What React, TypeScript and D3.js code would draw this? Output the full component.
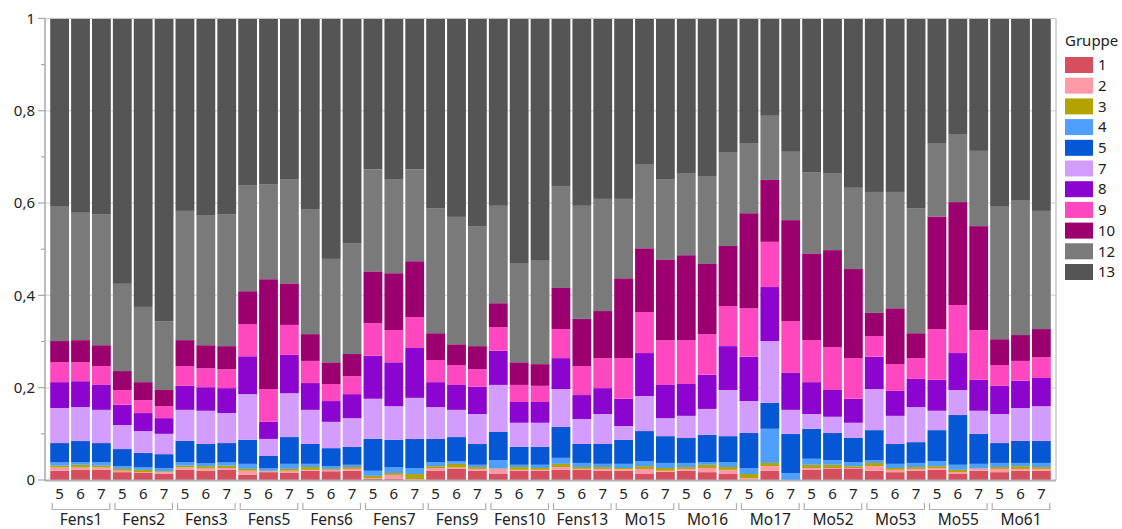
import React from "react";
import * as d3 from "d3";

const groups = ["Fens1","Fens2","Fens3","Fens5","Fens6","Fens7","Fens9","Fens10","Fens13","Mo15","Mo16","Mo17","Mo52","Mo53","Mo55","Mo61"];
const weeks = ["5","6","7"];
const seriesKeys = ["1","2","3","4","5","7","8","9","10","12","13"];
const seriesColors = ["#d64f5e","#ff9aa6","#b3a300","#4f9fff","#0557d6","#d39dff","#8b04d0","#ff48bf","#9c006e","#7a7a7a","#555555"];
const yTicks = [0,0.2,0.4,0.6,0.8,1];
const yTickLabels = ["0","0,2","0,4","0,6","0,8","1"];

const g1 = [.020,.022,.022,.017,.016,.014,.022,.020,.022,.011,.017,.016,.020,.019,.020,.003,.002,.001,.020,.025,.020,.013,.020,.020,.022,.022,.020,.020,.013,.018,.020,.017,.013,.001,.020,0,.022,.025,.025,.020,.017,.020,.022,.013,.020,.017,.020,.020];
const g2 = [.007,.005,.005,.003,.001,.003,.005,.005,.004,.009,.002,.004,.002,.003,.004,.001,.009,.001,.006,.002,.004,.011,.002,.002,.006,.002,.004,.003,.011,.002,.004,.009,.009,.003,.010,0,.004,.001,.001,.010,.005,.004,.004,.004,.004,.007,.004,.004];
const g3 = [.004,.006,.004,.004,.005,.002,.004,.005,.005,.004,.001,.004,.006,.002,.004,.005,.004,.011,.004,.008,.004,.001,.006,.004,.007,.004,.004,.003,.006,.006,.004,.007,.006,.009,.007,0,.007,.007,.004,.007,.004,.004,.004,.005,.001,.004,.006,.004];
const g4 = [.007,.006,.008,.006,.006,.007,.008,.006,.007,.011,.006,.011,.007,.006,.005,.011,.013,.013,.009,.006,.005,.018,.005,.007,.013,.009,.007,.009,.011,.011,.009,.006,.011,.013,.074,.015,.013,.010,.009,.006,.009,.009,.011,.011,.010,.009,.007,.009];
const g5 = [.042,.046,.041,.037,.031,.030,.046,.042,.042,.052,.026,.058,.043,.039,.039,.069,.059,.063,.050,.052,.045,.061,.039,.039,.067,.041,.043,.052,.065,.058,.054,.059,.056,.076,.056,.085,.065,.059,.052,.065,.043,.045,.067,.108,.065,.043,.048,.048];
const g7 = [.076,.073,.072,.052,.047,.044,.067,.072,.065,.099,.037,.095,.074,.057,.062,.087,.073,.089,.069,.059,.065,.102,.052,.052,.082,.054,.065,.030,.076,.039,.048,.056,.100,.069,.134,.052,.032,.035,.033,.089,.061,.076,.042,.054,.050,.063,.071,.075];
const g8 = [.056,.056,.054,.044,.039,.034,.052,.051,.054,.082,.037,.083,.058,.045,.052,.093,.095,.108,.054,.054,.059,.074,.045,.045,.067,.052,.056,.059,.093,.072,.069,.074,.095,.096,.117,.080,.069,.058,.052,.070,.054,.061,.067,.080,.067,.061,.059,.061];
const g9 = [.043,.041,.041,.032,.028,.026,.043,.041,.041,.070,.071,.065,.048,.037,.039,.071,.070,.067,.048,.043,.038,.051,.037,.035,.063,.063,.065,.088,.089,.097,.095,.088,.087,.105,.098,.112,.091,.093,.088,.045,.058,.045,.110,.104,.108,.045,.043,.045];
const g10 = [.046,.048,.045,.041,.039,.035,.056,.050,.050,.071,.238,.090,.058,.047,.048,.112,.123,.121,.058,.045,.050,.052,.049,.047,.089,.102,.102,.173,.138,.175,.184,.152,.130,.206,.134,.219,.188,.210,.193,.050,.121,.054,.244,.223,.225,.056,.056,.061];
const g12 = [.291,.276,.284,.189,.163,.149,.280,.282,.286,.230,.206,.226,.271,.224,.239,.221,.204,.199,.271,.276,.260,.211,.215,.224,.221,.245,.243,.172,.181,.174,.178,.189,.202,.152,.139,.148,.176,.167,.176,.262,.252,.271,.159,.146,.163,.287,.291,.256];
const g13 = [.408,.421,.424,.575,.625,.656,.417,.426,.424,.361,.359,.348,.413,.521,.488,.327,.348,.327,.411,.430,.450,.406,.530,.525,.363,.406,.391,.391,.317,.348,.335,.343,.291,.270,.211,.289,.333,.335,.367,.376,.376,.411,.270,.252,.287,.408,.395,.417];

const seriesValues = [g1,g2,g3,g4,g5,g7,g8,g9,g10,g12,g13];

const FONT = "'Noto Sans', 'Open Sans', sans-serif";

export default function App() {
  const W = 1122, H = 529;
  const left = 45, right = 1056, top = 18.4, bottom = 480;

  const rows = [];
  groups.forEach((g, gi) => {
    weeks.forEach((w, wi) => {
      const idx = gi * 3 + wi;
      const row: any = { id: g + "-" + w, group: g, week: w };
      seriesKeys.forEach((k, si) => { row[k] = seriesValues[si][idx]; });
      rows.push(row);
    });
  });

  const x = d3.scaleBand().domain(rows.map(r => r.id)).range([left, right]).paddingInner(0.1).paddingOuter(0.25);
  const y = d3.scaleLinear().domain([0, 1]).range([bottom, top]);
  const stack = d3.stack().keys(seriesKeys).offset(d3.stackOffsetNone);
  const stacked = stack(rows);

  const minorTicks = d3.range(0.1, 1, 0.2);

  return (
    <svg width={W} height={H} style={{ position: "absolute", left: 0, top: 0, fontFamily: FONT }}>
      <rect x={0} y={0} width={W} height={H} fill="#ffffff" />
      {yTicks.filter(t => t > 0 && t < 1).map(t => (
        <line key={"g" + t} x1={left} x2={right} y1={y(t)} y2={y(t)} stroke="#dedede" strokeWidth={1.5} />
      ))}
      {stacked.map((s, si) => (
        <g key={s.key} fill={seriesColors[si]}>
          {s.map((d, i) => {
            const y0 = y(d[0]), y1 = y(d[1]);
            if (y0 - y1 <= 0) return null;
            return <rect key={i} x={x(rows[i].id)} width={x.bandwidth()} y={y1} height={y0 - y1} />;
          })}
        </g>
      ))}
      <line x1={left} x2={right} y1={top} y2={top} stroke="#c8c8c8" strokeWidth={1} />
      <line x1={right} x2={right} y1={top} y2={bottom} stroke="#c8c8c8" strokeWidth={1.5} />
      <line x1={left} x2={left} y1={top} y2={bottom + 1} stroke="#a8a8a8" strokeWidth={1.5} />
      <line x1={left} x2={right} y1={bottom + 0.5} y2={bottom + 0.5} stroke="#b0b0b0" strokeWidth={2} />
      {yTicks.map(t => (
        <line key={"t" + t} x1={38} x2={left} y1={y(t)} y2={y(t)} stroke="#a8a8a8" strokeWidth={1.2} />
      ))}
      {minorTicks.map(t => (
        <line key={"m" + t} x1={41} x2={left} y1={y(t)} y2={y(t)} stroke="#a8a8a8" strokeWidth={1.2} />
      ))}
      {yTicks.map((t, i) => (
        <text key={"l" + t} x={35} y={y(t)} dy="0.35em" textAnchor="end" fontSize={15} fill="#222">{yTickLabels[i]}</text>
      ))}
      {rows.map(r => (
        <text key={"x" + r.id} x={(x(r.id) as number) + x.bandwidth() / 2} y={499} textAnchor="middle" fontSize={15} fill="#222">{r.week}</text>
      ))}
      {groups.map((g, gi) => {
        const x0 = (x(g + "-" + weeks[0]) as number) + 2;
        const x1 = (x(g + "-" + weeks[2]) as number) + x.bandwidth() - 1;
        return (
          <g key={"b" + g}>
            <path d={`M${x0},503 V509.5 H${x1} V503`} fill="none" stroke="#b0b0b0" strokeWidth={1.2} />
            <text x={(x0 + x1) / 2} y={525} textAnchor="middle" fontSize={15.5} fill="#222">{g}</text>
          </g>
        );
      })}
      <text x={1065} y={46} fontSize={15} fill="#222">Gruppe</text>
      {seriesKeys.map((k, i) => (
        <g key={"lg" + k}>
          <rect x={1065} y={57 + i * 20.7} width={28} height={16} fill={seriesColors[i]} />
          <text x={1098} y={57 + i * 20.7 + 8} dy="0.35em" fontSize={15} fill="#222">{k}</text>
        </g>
      ))}
    </svg>
  );
}
